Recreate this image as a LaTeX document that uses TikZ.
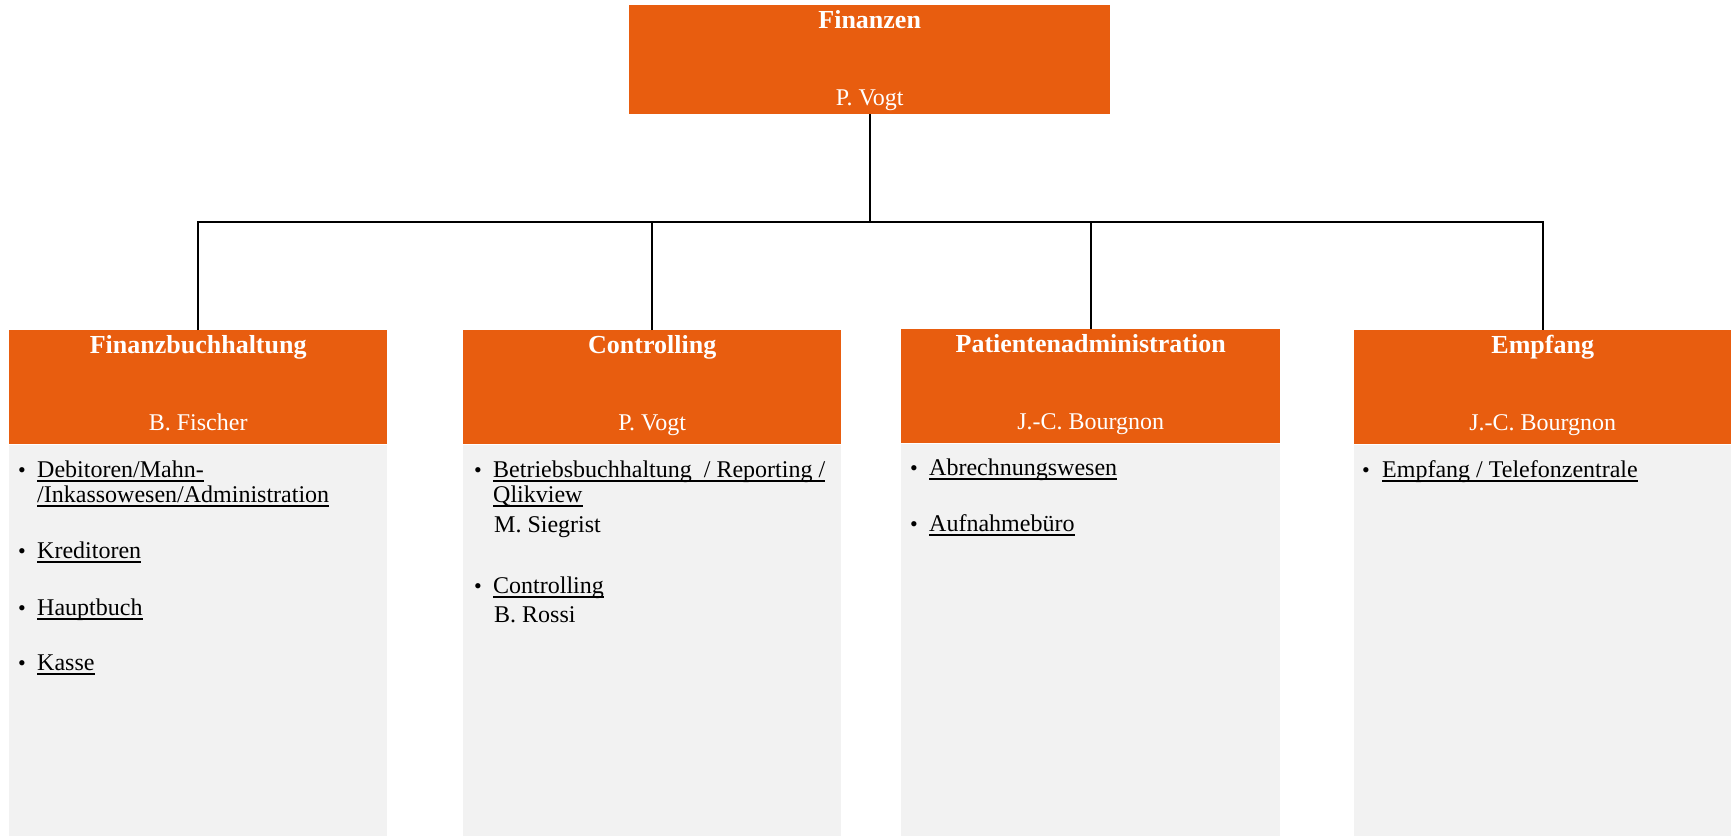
\documentclass[tikz,border=0pt]{standalone}
\usepackage{fontspec}
\setmainfont{Liberation Serif}
\usepackage{xcolor}
\usepackage{tikz}
\usetikzlibrary{positioning}
\definecolor{orangebox}{HTML}{E85D0F}
\definecolor{graybox}{HTML}{F2F2F2}
\newsavebox{\lnkbox}
\newcommand{\lnk}[1]{\sbox{\lnkbox}{#1}\rlap{\rule[-4.5pt]{\wd\lnkbox}{1.3pt}}\usebox{\lnkbox}}

\begin{document}
\begin{tikzpicture}[x=1pt,y=-1pt,
  head/.style={fill=orangebox, inner sep=0pt, minimum width=378pt, minimum height=114pt, anchor=north west},
  list/.style={fill=graybox, inner sep=0pt, minimum width=378pt, minimum height=391pt, anchor=north west},
  title/.style={anchor=base, text=white, font=\bfseries\fontsize{26}{31}\selectfont},
  boss/.style={anchor=base, text=white, font=\fontsize{24}{29}\selectfont},
  dot/.style={anchor=base, inner sep=0pt, font=\fontsize{22}{26}\selectfont},
  task/.style={anchor=base west, inner sep=0pt, font=\fontsize{24}{29}\selectfont},
  link/.style={line width=1.6pt}]
\useasboundingbox (0,0) rectangle (1731,835);

% boxes
\node[head, minimum width=481pt, minimum height=109pt] (fin) at (629,5) {};
\node[head] (fibu) at (9,330) {};
\node[head] (contr) at (463,330) {};
\node[head, minimum width=379pt] (padmin) at (901,329) {};
\node[head, minimum width=377pt] (empf) at (1354,330) {};
\node[list] (fibu-list) at (fibu.south west) {};
\node[list] (contr-list) at (contr.south west) {};
\node[list, minimum width=379pt, minimum height=392pt] (padmin-list) at (padmin.south west) {};
\node[list, minimum width=377pt] (empf-list) at (empf.south west) {};

% heads
\node[title] (fin-title) at ([yshift=-23pt]fin.north) {Finanzen};
\node[boss] (fin-boss) at ([yshift=-100pt]fin.north) {P. Vogt};
\node[title] (fibu-title) at ([yshift=-23pt]fibu.north) {Finanzbuchhaltung};
\node[boss] (fibu-boss) at ([yshift=-100pt]fibu.north) {B. Fischer};
\node[title] (contr-title) at ([yshift=-23pt]contr.north) {Controlling};
\node[boss] (contr-boss) at ([yshift=-100pt]contr.north) {P. Vogt};
\node[title] (padmin-title) at ([yshift=-23pt]padmin.north) {Patientenadministration};
\node[boss] (padmin-boss) at ([yshift=-100pt]padmin.north) {J.-C. Bourgnon};
\node[title] (empf-title) at ([yshift=-23pt]empf.north) {Empfang};
\node[boss] (empf-boss) at ([yshift=-100pt]empf.north) {J.-C. Bourgnon};

% tasks
\node[dot] (fibu-d1) at (22,477) {•};
\node[task] (fibu-t1) at (37,477) {\lnk{Debitoren/Mahn-}};
\node[task] (fibu-t1b) at (37,502) {\lnk{/Inkassowesen/Administration}};
\node[dot] (fibu-d2) at (22,558) {•};
\node[task] (fibu-t2) at (37,558) {\lnk{Kreditoren}};
\node[dot] (fibu-d3) at (22,615) {•};
\node[task] (fibu-t3) at (37,615) {\lnk{Hauptbuch}};
\node[dot] (fibu-d4) at (22,670) {•};
\node[task] (fibu-t4) at (37,670) {\lnk{Kasse}};

\node[dot] (contr-d1) at (478,477) {•};
\node[task] (contr-t1) at (493,477) {\lnk{Betriebsbuchhaltung~ / Reporting /}};
\node[task] (contr-t1b) at (493,502) {\lnk{Qlikview}};
\node[task] (contr-p1) at (494,532) {M. Siegrist};
\node[dot] (contr-d2) at (478,593) {•};
\node[task] (contr-t2) at (493,593) {\lnk{Controlling}};
\node[task] (contr-p2) at (494,622) {B. Rossi};

\node[dot] (padmin-d1) at (914,475) {•};
\node[task] (padmin-t1) at (929,475) {\lnk{Abrechnungswesen}};
\node[dot] (padmin-d2) at (914,531) {•};
\node[task] (padmin-t2) at (929,531) {\lnk{Aufnahmebüro}};

\node[dot] (empf-d1) at (1366,477) {•};
\node[task] (empf-t1) at (1382,477) {\lnk{Empfang / Telefonzentrale}};

% connectors
\coordinate (bar) at (869.5,222);
\draw[link, line width=2.4pt] (fin.south) -- (fin.south |- bar);
\draw[link] (fibu.north) |- (bar) -| (empf.north);
\draw[link] (contr.north) -- (contr.north |- bar);
\draw[link] (padmin.north) -- (padmin.north |- bar);
\end{tikzpicture}
\end{document}
